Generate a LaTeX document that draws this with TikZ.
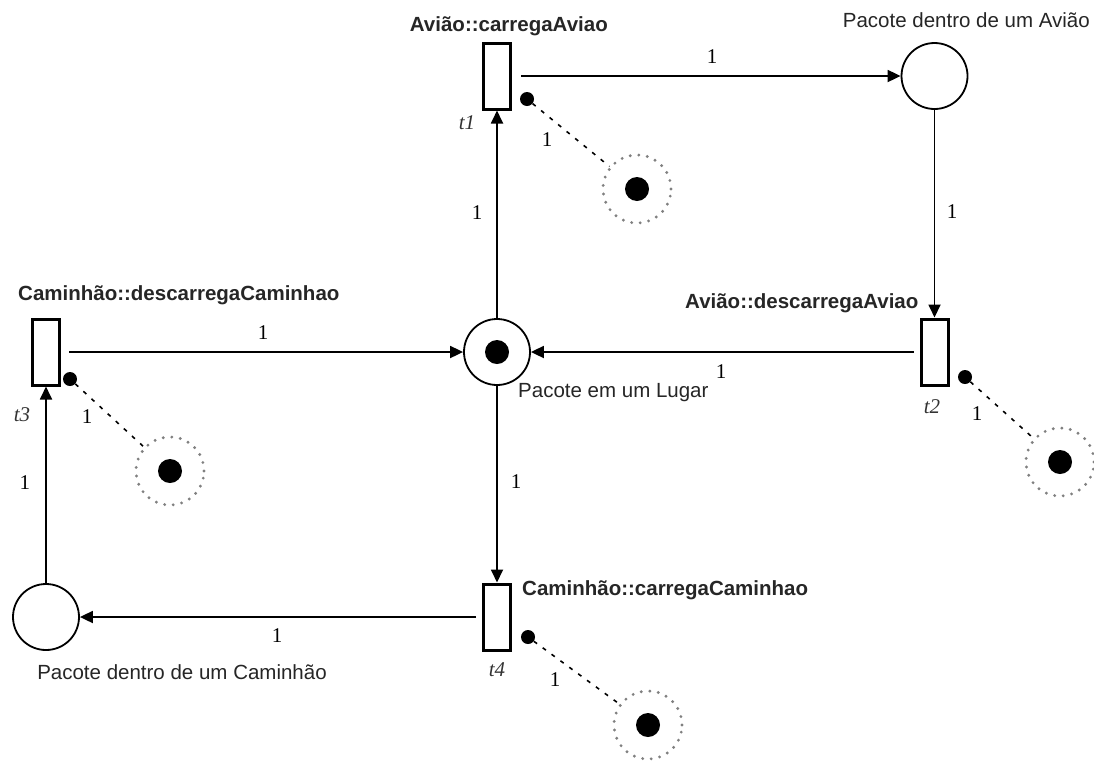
\documentclass[tikz,border=0pt]{standalone}
\usepackage{fontspec}
\setmainfont{Liberation Sans}
\newfontfamily\numfont{Liberation Serif}
\usetikzlibrary{arrows.meta}
\begin{document}
\begin{tikzpicture}[x=1pt,y=-1pt,
  trans/.style={draw, line width=3pt, fill=white, minimum width=27pt, minimum height=66pt, inner sep=0pt},
  place/.style={draw, circle, line width=1.8pt, minimum size=66pt, inner sep=0pt},
  token/.style={circle, fill=black, minimum size=24pt, inner sep=0pt},
  tokdot/.style={circle, fill=black, minimum size=14pt, inner sep=0pt},
  res/.style={circle, draw=black!50, line width=3.2pt, dash pattern=on 0pt off 8.6pt, line cap=round, minimum size=68pt, inner sep=0pt},
  arc/.style={line width=1.8pt, -{Triangle[length=13pt,width=12pt]}},
  tname/.style={font=\fontsize{20.5}{24}\selectfont\bfseries, text=black!85, inner sep=0pt},
  pname/.style={font=\fontsize{20.5}{24}\selectfont, text=black!85, inner sep=0pt},
  wt/.style={font=\numfont\fontsize{21}{24}\selectfont, inner sep=0pt},
  tl/.style={font=\numfont\itshape\fontsize{21}{24}\selectfont, text=black!80, inner sep=0pt},
  link/.style={line width=1.6pt, dash pattern=on 4pt off 7pt},
]
\fill[white] (0,0) rectangle (1094,761);
\useasboundingbox (0,0) rectangle (1094,761);

% places
\node[place] (pA) at (934.5,76) {};
\node[place] (pL) at (497,352) {};
\node[token] at (pL) {};
\node[place] (pC) at (46,617) {};

% transitions
\node[trans] (t1) at (497,76) {};
\node[trans] (t2) at (934.5,352) {};
\node[trans] (t3) at (46,352) {};
\node[trans] (t4) at (497,617) {};

% arcs with weights
\draw[arc, shorten <=9pt] (t1) -- (pA);
\node[wt] (w1) at (712,57) {1};
\draw[arc] (pA) -- (t2);
\node[wt] (w2) at (952,212) {1};
\draw[arc, shorten <=6pt] (t2) -- (pL);
\node[wt] (w3) at (721,372) {1};
\draw[arc] (pL) -- (t1);
\node[wt] (w4) at (477,213) {1};
\draw[arc, shorten <=8pt] (t3) -- (pL);
\node[wt] (w5) at (263,333) {1};
\draw[arc] (pL) -- (t4);
\node[wt] (w6) at (516,482) {1};
\draw[arc, shorten <=6pt] (t4) -- (pC);
\node[wt] (w7) at (277,636) {1};
\draw[arc] (pC) -- (t3);
\node[wt] (w8) at (25,483) {1};

% resource places attached to each transition
\node[tokdot] (d1) at (527,99) {};
\node[res] (r1) at (637,189) {};
\node[token] at (r1) {};
\draw[link] (d1) -- (r1);
\node[wt] at (547,140) {1};

\node[tokdot] (d2) at (965,377) {};
\node[res] (r2) at (1060,462) {};
\node[token] at (r2) {};
\draw[link] (d2) -- (r2);
\node[wt] at (977,414) {1};

\node[tokdot] (d3) at (70,379) {};
\node[res] (r3) at (170,471) {};
\node[token] at (r3) {};
\draw[link] (d3) -- (r3);
\node[wt] at (87,417) {1};

\node[tokdot] (d4) at (528,637) {};
\node[res] (r4) at (648,725) {};
\node[token] at (r4) {};
\draw[link] (d4) -- (r4);
\node[wt] at (555,680) {1};

% transition identifiers
\node[tl] at (467,123) {t1};
\node[tl] at (932,407) {t2};
\node[tl] at (22,415) {t3};
\node[tl] at (497,670) {t4};

% transition names
\node[tname, anchor=east] at (608,26) {Avião::carregaAviao};
\node[tname, anchor=west] at (685,303) {Avião::descarregaAviao};
\node[tname, anchor=west] at (18,295) {Caminhão::descarregaCaminhao};
\node[tname, anchor=west] at (522,590) {Caminhão::carregaCaminhao};

% place names
\node[pname, anchor=east] at (1090,20) {Pacote dentro de um Avião};
\node[pname, anchor=west] at (518,393) {Pacote em um Lugar};
\node[pname] at (182,672) {Pacote dentro de um Caminhão};
\end{tikzpicture}
\end{document}
